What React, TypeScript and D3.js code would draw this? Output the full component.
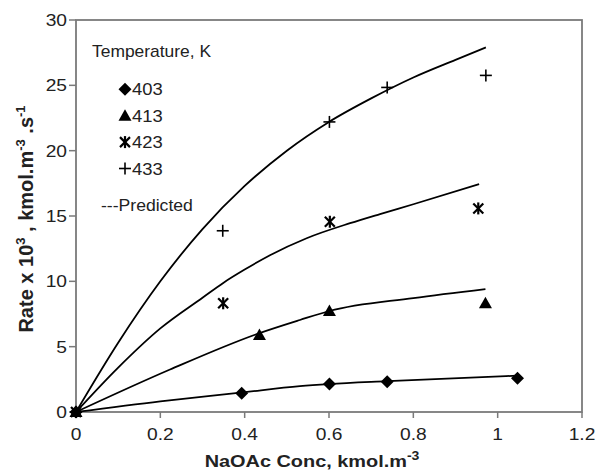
import React from "react";
import * as d3 from "d3";

const xTicks = [0, 0.2, 0.4, 0.6, 0.8, 1, 1.2];
const yTicks = [0, 5, 10, 15, 20, 25, 30];

const temps = ["403", "413", "423", "433"];

const obs403: [number, number][] = [[0, 0], [0.393, 1.43], [0.601, 2.14], [0.738, 2.32], [1.047, 2.58]];
const obs413: [number, number][] = [[0, 0], [0.435, 5.89], [0.601, 7.73], [0.971, 8.32]];
const obs423: [number, number][] = [[0, 0], [0.349, 8.32], [0.602, 14.56], [0.954, 15.58]];
const obs433: [number, number][] = [[0, 0], [0.348, 13.87], [0.601, 22.2], [0.738, 24.84], [0.972, 25.76]];

const pred403: [number, number][] = [[0, 0], [0.2, 0.82], [0.39, 1.48], [0.531, 1.98], [0.6, 2.14], [0.74, 2.36], [1.045, 2.78]];
const pred413: [number, number][] = [[0, 0], [0.223, 3.25], [0.432, 6.0], [0.531, 7.04], [0.601, 7.73], [0.8, 8.72], [0.971, 9.41]];
const pred423: [number, number][] = [[0, 0], [0.1, 3.4], [0.2, 6.4], [0.3, 8.75], [0.35, 9.9], [0.4, 10.9], [0.46, 12.0], [0.547, 13.3], [0.65, 14.45], [0.721, 15.15], [0.8, 15.9], [0.956, 17.44]];
const pred433: [number, number][] = [[0, 0], [0.1, 5.3], [0.2, 10.0], [0.3, 14.0], [0.4, 17.3], [0.5, 20.0], [0.6, 22.2], [0.7, 24.0], [0.8, 25.6], [0.9, 26.95], [0.972, 27.9]];

const W = 597, H = 472;
const L = 76, R = 582, T = 20, B = 412;
const FONT = "'Liberation Sans', Arial, sans-serif";

function Marker({ kind, x, y }: { kind: string; x: number; y: number }) {
  if (kind === "403") {
    const s = 6.5;
    return <path d={`M${x},${y - s}L${x + s},${y}L${x},${y + s}L${x - s},${y}Z`} fill="#000" />;
  }
  if (kind === "413") {
    return <path d={`M${x},${y - 6.5}L${x + 6.5},${y + 5}L${x - 6.5},${y + 5}Z`} fill="#000" />;
  }
  if (kind === "423") {
    const s = 5;
    return (
      <g stroke="#000" strokeWidth={2.2}>
        <line x1={x - s} y1={y - s} x2={x + s} y2={y + s} />
        <line x1={x - s} y1={y + s} x2={x + s} y2={y - s} />
        <line x1={x} y1={y - s - 1} x2={x} y2={y + s + 1} />
      </g>
    );
  }
  const s = 6;
  return (
    <g stroke="#000" strokeWidth={1.6}>
      <line x1={x - s} y1={y} x2={x + s} y2={y} />
      <line x1={x} y1={y - s} x2={x} y2={y + s} />
    </g>
  );
}

function SText({ x, y, sx = 1.18, anchor = "start", size = 16, weight = "normal", children }: any) {
  return (
    <text
      transform={`translate(${x},${y}) scale(${sx},1)`}
      textAnchor={anchor}
      fontSize={size}
      fontWeight={weight}
      fill="#222"
    >
      {children}
    </text>
  );
}

export default function App() {
  const x = d3.scaleLinear().domain([0, 1.2]).range([L, R]);
  const y = d3.scaleLinear().domain([0, 30]).range([B, T]);
  const line = d3
    .line<[number, number]>()
    .x((d) => x(d[0]))
    .y((d) => y(d[1]))
    .curve(d3.curveMonotoneX);

  const preds = [pred403, pred413, pred423, pred433];
  const obs = [obs403, obs413, obs423, obs433];

  return (
    <svg width={W} height={H} style={{ position: "absolute", left: 0, top: 0, background: "#fff" }} fontFamily={FONT}>
      <rect x={0} y={0} width={W} height={H} fill="#fff" />
      <rect x={L} y={T} width={R - L} height={B - T} fill="none" stroke="#7a7a7a" strokeWidth={1.8} />
      {yTicks.map((t) => (
        <g key={"y" + t}>
          <line x1={L - 7} x2={L} y1={y(t)} y2={y(t)} stroke="#7a7a7a" strokeWidth={1.5} />
          <SText x={67} y={y(t) + 6} anchor="end" sx={1.2}>{t}</SText>
        </g>
      ))}
      {xTicks.map((t) => (
        <g key={"x" + t}>
          <line x1={x(t)} x2={x(t)} y1={B} y2={B + 6} stroke="#7a7a7a" strokeWidth={1.5} />
          <SText x={x(t)} y={440} anchor="middle" sx={1.2}>{t}</SText>
        </g>
      ))}
      {preds.map((p, i) => (
        <path key={"p" + i} d={line(p) || ""} fill="none" stroke="#000" strokeWidth={1.8} />
      ))}
      {obs.map((o, i) =>
        o.map((d, j) => <Marker key={`m${i}-${j}`} kind={temps[i]} x={x(d[0])} y={y(d[1])} />)
      )}
      <SText x={92} y={57} sx={1.09}>Temperature, K</SText>
      {temps.map((t, i) => {
        const cy = 89.3 + i * 26.4;
        return (
          <g key={"l" + t}>
            <Marker kind={t} x={125} y={cy} />
            <SText x={132} y={cy + 6} sx={1.15}>{t}</SText>
          </g>
        );
      })}
      <SText x={101} y={211} sx={1.1}>---Predicted</SText>
      <SText x={312} y={467} anchor="middle" size={17} weight="bold" sx={1.17}>
        NaOAc Conc, kmol.m<tspan dy={-7} fontSize={12}>-3</tspan>
      </SText>
      <text
        transform={`translate(33,219) rotate(-90)`}
        textAnchor="middle"
        fontSize={20}
        fontWeight="bold"
        fill="#222"
      >
        Rate x 10<tspan dy={-8} fontSize={13}>3</tspan>
        <tspan dy={8}> , kmol.m</tspan>
        <tspan dy={-8} fontSize={13}>-3</tspan>
        <tspan dy={8}> .s</tspan>
        <tspan dy={-8} fontSize={13}>-1</tspan>
      </text>
    </svg>
  );
}
